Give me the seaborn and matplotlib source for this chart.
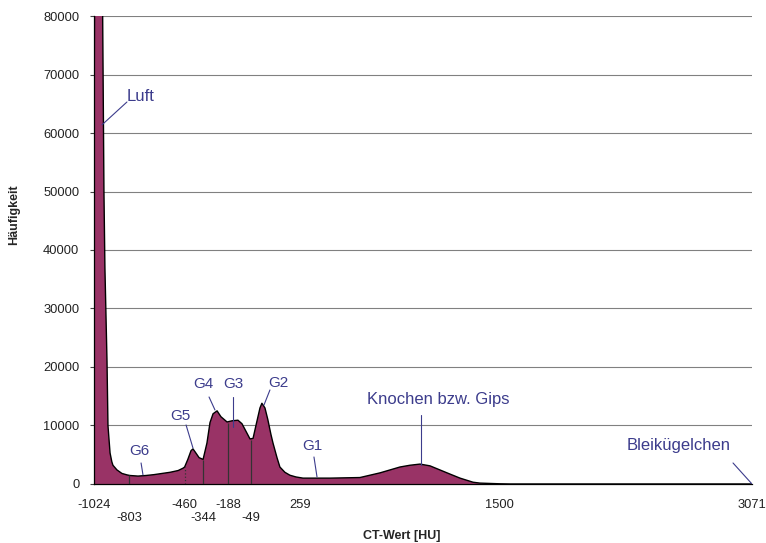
import numpy as np
import pandas as pd
import matplotlib.pyplot as plt
import seaborn as sns

# histogram
hu = [-1024, -1000, -970, -962, -956, -943, -937, -924, -913, -906, -881, -850,
      -818, -800, -750, -700, -650, -600, -550, -500, -470, -460, -440, -420,
      -408, -395, -370, -345, -321, -302, -283, -258, -234, -196, -165, -128,
      -103, -78, -53, -34, -16, 9, 21, 40, 58, 77, 90, 115, 133, 164, 195, 233,
      277, 445, 631, 756, 880, 942, 1005, 1067, 1129, 1191, 1254, 1335, 1378,
      1503, 1565, 3071]
counts = [56000, 250000, 80000, 50000, 37000, 21000, 10000, 5300, 3800, 3200,
          2400, 1800, 1550, 1450, 1350, 1450, 1600, 1800, 2000, 2300, 2700, 2900,
          4200, 5700, 6000, 5500, 4500, 4200, 7000, 10500, 12000, 12500, 11500,
          10600, 10800, 10900, 10300, 9000, 7700, 7800, 10000, 13000, 13800,
          13000, 11000, 8500, 7000, 4500, 2900, 2000, 1500, 1200, 1000, 1000,
          1100, 1900, 2900, 3200, 3400, 3100, 2400, 1700, 1000, 300, 150, 30, 0, 0]
assert len(hu) == len(counts)

major_ticks = [-1024, -460, -188, 259, 1500, 3071]
minor_ticks = [-803, -344, -49]
y_ticks = [0, 10000, 20000, 30000, 40000, 50000, 60000, 70000, 80000]

# threshold lines inside the area (HU, height)
marker_hu = [-803, -344, -188, -49]
marker_top = [1450, 4100, 10400, 7500]

df = pd.DataFrame({"hu": hu, "count": counts})

sns.set_style("white")
plt.rcParams['font.family'] = ['Liberation Sans', 'DejaVu Sans']

fig = plt.figure(figsize=(7.66, 5.43), dpi=100)
ax = fig.add_axes([0.1227, 0.1087, 0.859, 0.8618])

ax.fill_between(df["hu"], df["count"], color="#993366", lw=0, zorder=2)
sns.lineplot(data=df, x="hu", y="count", color="black", lw=1.0, ax=ax, zorder=3)

ax.vlines(marker_hu, 0, marker_top, color="#333333", lw=0.9, zorder=4)
ax.vlines([-460], 0, [2900], color="#333333", lw=0.9, ls=":", zorder=4)

tick_fs = 9.3
ax.set_xlim(-1024, 3071)
ax.set_ylim(0, 80000)
ax.set_yticks(y_ticks)
ax.set_yticklabels([str(v) for v in y_ticks], fontsize=tick_fs, color="#222222")
ax.set_xticks(major_ticks)
ax.set_xticklabels([str(v) for v in major_ticks], fontsize=tick_fs, color="#222222")
ax.set_xticks(minor_ticks, minor=True)
ax.set_xticklabels([str(v) for v in minor_ticks], minor=True, fontsize=tick_fs, color="#222222")
ax.tick_params(axis="x", which="major", length=5, width=0.8, pad=5.5, color="#444444")
ax.tick_params(axis="x", which="minor", length=16.5, width=0.8, pad=4, color="#444444")
ax.tick_params(axis="y", length=3, width=0.8, pad=7.5, color="#444444", left=True)

ax.yaxis.grid(True, color="#808080", lw=0.8, zorder=0)
ax.set_axisbelow(True)
for s in ["top", "right"]:
    ax.spines[s].set_visible(False)
for s in ["left", "bottom"]:
    ax.spines[s].set_color("black")
    ax.spines[s].set_linewidth(0.9)

ax.set_xlabel("CT-Wert [HU]", fontsize=9, fontweight="bold")
ax.set_ylabel("Häufigkeit", fontsize=9, fontweight="bold")
ax.xaxis.set_label_coords(0.468, -0.098)
ax.yaxis.set_label_coords(-0.112, 0.575)

lab_col = "#3c3c8c"
def note(txt, xt, yt, x0, y0, x1, y1, size, ha="center"):
    ax.text(xt, yt, txt, color=lab_col, fontsize=size, ha=ha, va="center", zorder=6)
    ax.plot([x0, x1], [y0, y1], color=lab_col, lw=0.8, zorder=6)

note("Luft", -819, 66300, -819, 65300, -974, 61400, 12, ha="left")
note("G6", -744, 5640, -731, 3590, -719, 1540, 11)
note("G5", -489, 11620, -451, 10090, -408, 6150, 11)
note("G4", -346, 17090, -308, 14870, -271, 12650, 11)
note("G3", -159, 17090, -159, 14870, -159, 9740, 11)
note("G2", 121, 17260, 71, 16070, 34, 13500, 11)
note("G1", 333, 6500, 345, 4615, 364, 1200, 11)
note("Knochen bzw. Gips", 1120, 14360, 1011, 11800, 1011, 3250, 12)
note("Bleikügelchen", 2617, 6500, 2953, 3590, 3071, 0, 12)

fig.savefig("out.png", dpi=100)
